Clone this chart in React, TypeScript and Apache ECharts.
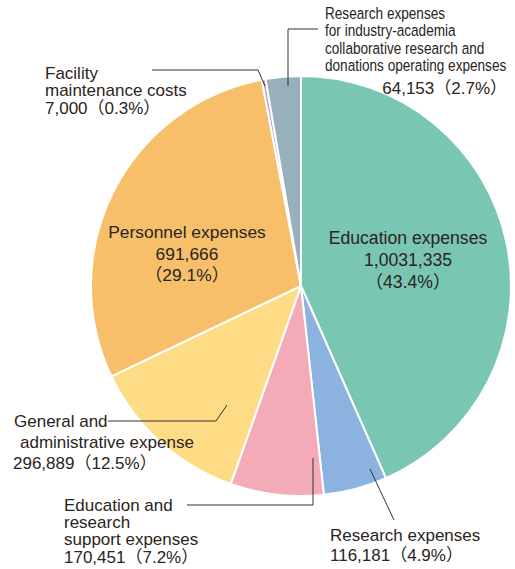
import React, { useEffect, useRef } from 'react';
import * as echarts from 'echarts';

const categories = [
  'Education expenses',
  'Research expenses',
  'Education and research support expenses',
  'General and administrative expense',
  'Personnel expenses',
  'Facility maintenance costs',
  'Research expenses for industry-academia collaborative research and donations operating expenses',
];
const values = [1031335, 116181, 170451, 296889, 691666, 7000, 64153];
const valueLabels = ['1,0031,335', '116,181', '170,451', '296,889', '691,666', '7,000', '64,153'];
const percentLabels = ['43.4%', '4.9%', '7.2%', '12.5%', '29.1%', '0.3%', '2.7%'];
const nameLines = [
  ['Education expenses'],
  ['Research expenses'],
  ['Education and', 'research', 'support expenses'],
  ['General and', 'administrative expense'],
  ['Personnel expenses'],
  ['Facility', 'maintenance costs'],
  ['Research expenses', 'for industry-academia', 'collaborative research and', 'donations operating expenses'],
];
const colors = ['#79c6b3', '#8cb3df', '#f3abb7', '#fddc85', '#f7bf69', '#b59bd3', '#98afbd'];

// label layout (positions only)
type Lay = {
  inside?: boolean;
  x: number;
  y: number;
  lh: number;
  align: string;
  size?: number;
  dx?: number[];
  scaleX?: number;
  valueAt?: { x: number; y: number; align: string };
  leader?: number[][];
};
const layouts: Lay[] = [
  { inside: true, x: 408, y: 238, lh: 22, align: 'center', size: 17.6 },
  { x: 330, y: 535, lh: 20, align: 'left', leader: [[370, 469], [394, 520]] },
  { x: 64, y: 505, lh: 17.4, align: 'left', leader: [[187, 505], [313, 505], [313, 458]] },
  { x: 14, y: 421, lh: 21, align: 'left', dx: [0, 6, -1], leader: [[108, 421], [216, 421], [227, 405]] },
  { inside: true, x: 187, y: 232, lh: 21.5, align: 'center', size: 17.4 },
  { x: 45, y: 73, lh: 17.5, align: 'left', leader: [[152, 70], [258, 70], [265, 86]] },
  {
    x: 325, y: 13, lh: 17.3, align: 'left', scaleX: 0.8,
    valueAt: { x: 507, y: 88, align: 'right' },
    leader: [[318, 29], [288, 29], [288, 86]],
  },
];

const FONT = "'Liberation Sans', 'Noto Sans CJK JP', sans-serif";
const TEXT_COLOR = '#2a2422';

export default function App() {
  const ref = useRef<HTMLDivElement>(null);
  useEffect(() => {
    if (!ref.current) return;
    const chart = echarts.init(ref.current, undefined, { renderer: 'svg' });

    const graphics: any[] = [];
    layouts.forEach((lay, i) => {
      const lines: string[] = lay.inside
        ? [...nameLines[i], valueLabels[i], `（${percentLabels[i]}）`]
        : lay.valueAt
        ? [...nameLines[i]]
        : [...nameLines[i], `${valueLabels[i]}（${percentLabels[i]}）`];
      lines.forEach((t, k) => {
        graphics.push({
          type: 'text',
          x: lay.x + (lay.dx ? lay.dx[k] || 0 : 0),
          y: lay.y + k * lay.lh,
          scaleX: lay.scaleX || 1,
          silent: true,
          z: 100,
          style: {
            text: t,
            fontSize: lay.size || 17,
            fontFamily: FONT,
            fill: TEXT_COLOR,
            align: lay.align,
            verticalAlign: 'middle',
          },
        });
      });
      if (lay.valueAt) {
        graphics.push({
          type: 'text',
          x: lay.valueAt.x,
          y: lay.valueAt.y,
          silent: true,
          z: 100,
          style: {
            text: `${valueLabels[i]}（${percentLabels[i]}）`,
            fontSize: 17,
            fontFamily: FONT,
            fill: TEXT_COLOR,
            align: lay.valueAt.align,
            verticalAlign: 'middle',
          },
        });
      }
      if (lay.leader) {
        graphics.push({
          type: 'polyline',
          silent: true,
          z: 100,
          shape: { points: lay.leader },
          style: { stroke: '#333', lineWidth: 1, fill: 'none' },
        });
      }
    });

    chart.setOption({
      animation: false,
      backgroundColor: '#ffffff',
      series: [
        {
          type: 'pie',
          center: [301, 286],
          radius: 210,
          startAngle: 90,
          clockwise: true,
          silent: true,
          z: 2,
          label: { show: false },
          labelLine: { show: false },
          emphasis: { disabled: true },
          itemStyle: { borderColor: '#ffffff', borderWidth: 2 },
          data: categories.map((name, i) => ({
            name,
            value: values[i],
            itemStyle: { color: colors[i] },
          })),
        },
      ],
      graphic: graphics,
    });
    return () => chart.dispose();
  }, []);
  return (
    <div
      ref={ref}
      style={{ position: 'fixed', left: 0, top: 0, width: 515, height: 569, background: '#fff' }}
    />
  );
}
